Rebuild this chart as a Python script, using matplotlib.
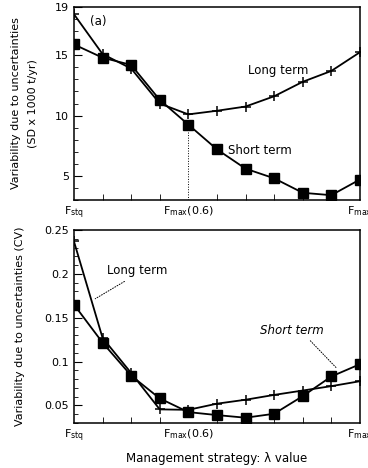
import numpy as np
import matplotlib
matplotlib.use("Agg")
import matplotlib.pyplot as plt
from matplotlib.ticker import MultipleLocator

# strategy positions (F_stq ... F_max)
x = np.arange(11)
xtick_pos = [0, 4, 10]
xtick_labels = [r'F$_{\rm stq}$', r'F$_{\rm max}$(0.6)', r'F$_{\rm max}$']

# (a) SD x 1000 t/yr
sd_long = [18.4, 15.1, 13.9, 11.0, 10.1, 10.4, 10.75, 11.6, 12.8, 13.7, 15.25]
sd_short = [15.9, 14.8, 14.2, 11.3, 9.25, 7.2, 5.6, 4.8, 3.6, 3.4, 4.7]

# (b) CV
cv_long = [0.237, 0.127, 0.087, 0.0455, 0.045, 0.052, 0.0565, 0.062, 0.067, 0.072, 0.0776]
cv_short = [0.165, 0.1216, 0.084, 0.058, 0.0424, 0.039, 0.036, 0.0405, 0.0606, 0.083, 0.097]

plt.rcParams['font.family'] = 'DejaVu Sans'
plt.rcParams['font.size'] = 8

fig = plt.figure(figsize=(3.68, 4.68), dpi=100)
ax1 = fig.add_axes([0.201, 0.5726, 0.777, 0.4124])
ax2 = fig.add_axes([0.201, 0.0962, 0.777, 0.4123])

for ax, lng, sht in ((ax1, sd_long, sd_short), (ax2, cv_long, cv_short)):
    ax.plot(x, lng, color='black', lw=1.3, marker='+', ms=7, mew=1.1)
    ax.plot(x, sht, color='black', lw=1.3, marker='s', ms=7)
    ax.set_xlim(0, 10)
    ax.set_xticks(xtick_pos)
    ax.set_xticklabels(xtick_labels)
    ax.set_xticks(x, minor=True)
    ax.tick_params(which='both', direction='in', top=False, right=False)
    ax.tick_params(axis='x', which='major', length=0, pad=3)
    ax.tick_params(axis='x', which='minor', length=4)
    ax.tick_params(axis='y', which='major', length=6)
    ax.tick_params(axis='y', which='minor', length=3)
    for s in ax.spines.values():
        s.set_linewidth(1.1)

# top panel
ax1.set_ylim(3, 19)
ax1.set_yticks([5, 10, 15, 19])
ax1.set_yticklabels(['5', '10', '15', '19'])
ax1.yaxis.set_minor_locator(MultipleLocator(1))
ax1.set_ylabel('Variability due to uncertainties\n(SD x 1000 t/yr)',
               labelpad=12, linespacing=1.9)
ax1.plot([4, 4], [3, sd_short[4]], color='black', lw=0.7, ls=':')
ax1.text(0.55, 17.8, '(a)', fontsize=8.5, va='center')
ax1.text(6.1, 13.75, 'Long term', fontsize=8.5, va='center')
ax1.text(5.4, 7.1, 'Short term', fontsize=8.5, va='center')

# bottom panel
ax2.set_ylim(0.03, 0.25)
ax2.set_yticks([0.05, 0.1, 0.15, 0.2, 0.25])
ax2.set_yticklabels(['0.05', '0.1', '0.15', '0.2', '0.25'])
ax2.yaxis.set_minor_locator(MultipleLocator(0.01))
ax2.set_ylabel('Variability due to uncertainties (CV)', labelpad=14)
ax2.set_xlabel('Management strategy: λ value', labelpad=6, fontsize=8.5)
ax2.text(1.15, 0.204, 'Long term', fontsize=8.5, va='center')
ax2.annotate('', xy=(0.66, 0.170), xytext=(1.85, 0.193),
             arrowprops=dict(arrowstyle='-', ls=':', lw=0.7, color='black'))
ax2.text(6.5, 0.136, 'Short term', fontsize=8.5, style='italic', va='center')
ax2.annotate('', xy=(9.23, 0.091), xytext=(8.2, 0.126),
             arrowprops=dict(arrowstyle='-', ls=':', lw=0.7, color='black'))

fig.savefig('out.png', dpi=100)
